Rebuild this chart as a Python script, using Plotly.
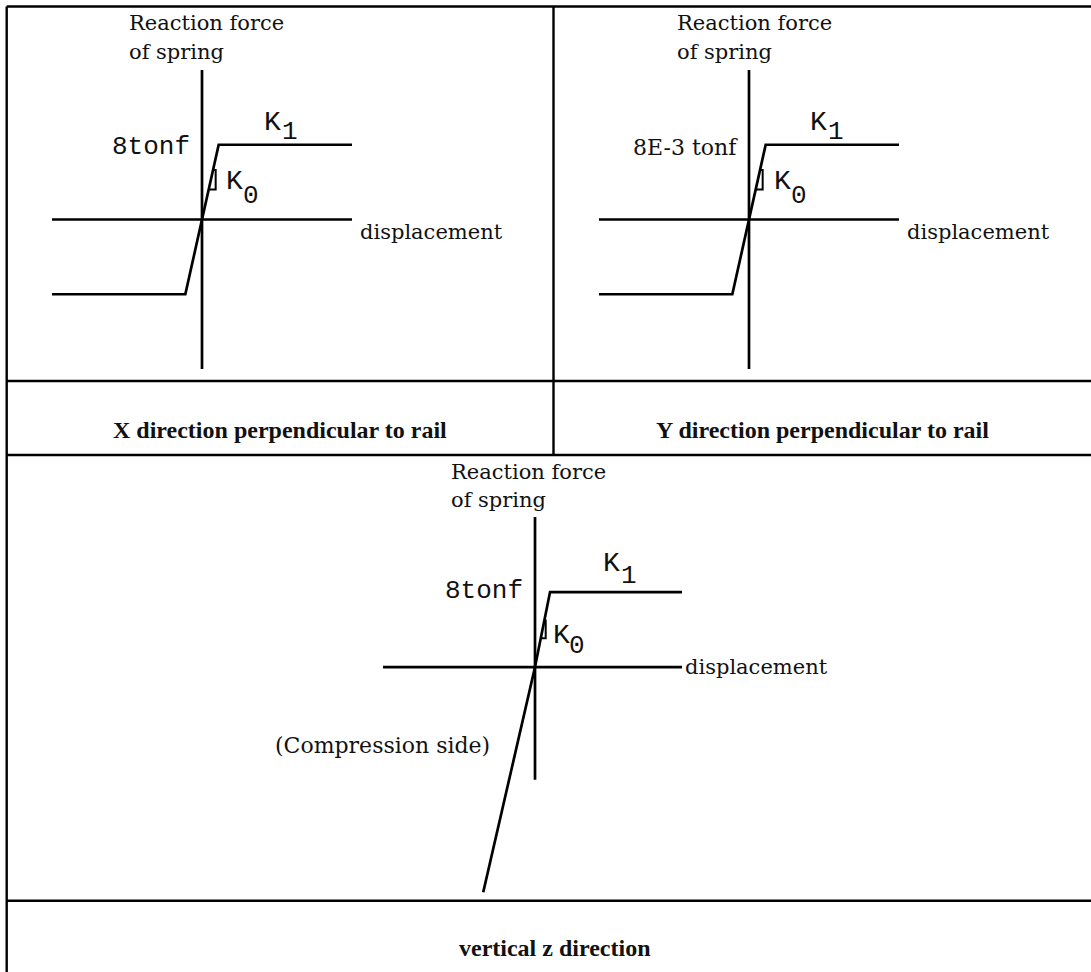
import plotly.graph_objects as go

W, H = 1091, 972

# spring curves: displacement (relative units) vs reaction force (tonf)
disp_x = [-9, -1, 1, 9]
force_x = [-8, -8, 8, 8]
disp_y = [-9, -1, 1, 9]
force_y = [-8, -8, 8, 8]
disp_z = [-3.1, 0, 0.9, 8.8]
force_z = [-24, 0, 8, 8]

# extents of the drawn axes
axis_disp_xy = [-9, 9]
axis_force_xy = [-16, 16]
axis_disp_z = [-9.1, 8.8]
axis_force_z = [-12, 16]

# little K0 slope marker
k0_disp_xy = [0.66, 0.82, 0.82, 0.40]
k0_force_xy = [5.3, 5.3, 3.2, 3.2]
k0_disp_z = [0.56, 0.64, 0.64, 0.35]
k0_force_z = [4.96, 4.96, 3.07, 3.07]

yield_labels = ["8tonf", "8E-3 tonf", "8tonf"]
titles = ["X direction perpendicular to rail",
          "Y direction perpendicular to rail",
          "vertical z direction"]


def fx(p):
    return p / W


def fy(p):
    return 1 - p / H


SERIF = "DejaVu Serif"
MONO = "Liberation Mono"
INK = "#111"

fig = go.Figure()

panels = [
    # suffix, curve, axes, marker, plot area in px, ranges
    dict(s="", d=disp_x, f=force_x, ad=axis_disp_xy, af=axis_force_xy,
         kd=k0_disp_xy, kf=k0_force_xy, bx=(52, 352), by=(70, 369),
         rx=[-9, 9], ry=[-16, 16]),
    dict(s="2", d=disp_y, f=force_y, ad=axis_disp_xy, af=axis_force_xy,
         kd=k0_disp_xy, kf=k0_force_xy, bx=(599, 899), by=(70, 369),
         rx=[-9, 9], ry=[-16, 16]),
    dict(s="3", d=disp_z, f=force_z, ad=axis_disp_z, af=axis_force_z,
         kd=k0_disp_z, kf=k0_force_z, bx=(383, 682), by=(517, 895),
         rx=[-9.1, 8.8], ry=[-24.3, 16]),
]

layout_axes = {}
for p in panels:
    xa, ya = "x" + p["s"], "y" + p["s"]
    line = dict(color="black", width=2.7)
    fig.add_trace(go.Scatter(x=p["ad"], y=[0, 0], mode="lines", line=line,
                             xaxis=xa, yaxis=ya, hoverinfo="skip"))
    fig.add_trace(go.Scatter(x=[0, 0], y=p["af"], mode="lines", line=line,
                             xaxis=xa, yaxis=ya, hoverinfo="skip"))
    fig.add_trace(go.Scatter(x=p["d"], y=p["f"], mode="lines", line=line,
                             xaxis=xa, yaxis=ya))
    fig.add_trace(go.Scatter(x=p["kd"], y=p["kf"], mode="lines",
                             line=dict(color="black", width=2),
                             xaxis=xa, yaxis=ya, hoverinfo="skip"))
    layout_axes["xaxis" + p["s"]] = dict(
        domain=[fx(p["bx"][0]), fx(p["bx"][1])], range=p["rx"],
        visible=False, anchor=ya)
    layout_axes["yaxis" + p["s"]] = dict(
        domain=[fy(p["by"][1]), fy(p["by"][0])], range=p["ry"],
        visible=False, anchor=xa)

ann = []


def note(text, x, y, xanchor="left", family=SERIF, size=21, bold=False):
    if bold:
        text = "<b>" + text + "</b>"
    ann.append(dict(text=text, x=fx(x), y=fy(y), xref="paper", yref="paper",
                    xanchor=xanchor, yanchor="middle", showarrow=False,
                    font=dict(family=family, size=size, color=INK)))


# X panel
note("Reaction force", 127, 23)
note("of spring", 127, 52)
note(yield_labels[0], 192, 147, "right", MONO, 26)
note("K", 262, 122, family=MONO, size=28)
note("1", 280, 132, family=MONO, size=26)
note("K", 224, 181, family=MONO, size=28)
note("0", 241, 196, family=MONO, size=26)
note("displacement", 358, 232)
note(titles[0], 280, 430, "center", "Liberation Serif", 24, True)

# Y panel
note("Reaction force", 675, 23)
note("of spring", 675, 52)
note(yield_labels[1], 740, 148, "right", size=22)
note("K", 808, 122, family=MONO, size=28)
note("1", 826, 132, family=MONO, size=26)
note("K", 772, 181, family=MONO, size=28)
note("0", 789, 196, family=MONO, size=26)
note("displacement", 905, 232)
note(titles[1], 822, 430, "center", "Liberation Serif", 24, True)

# Z panel
note("Reaction force", 449, 472)
note("of spring", 449, 500)
note(yield_labels[2], 525, 591, "right", MONO, 26)
note("K", 601, 563, family=MONO, size=28)
note("1", 619, 576, family=MONO, size=26)
note("K", 551, 635, family=MONO, size=28)
note("0", 567, 646, family=MONO, size=26)
note("displacement", 683, 667)
note("(Compression side)", 273, 745, size=22)
note(titles[2], 554, 948, "center", "Liberation Serif", 24, True)

# table rules
rules = [
    (6.7, 6.5, W + 2, 6.5),
    (6.7, 6.5, 6.7, H + 2),
    (553.5, 6.5, 553.5, 455),
    (6.7, 381, W + 2, 381),
    (6.7, 455, W + 2, 455),
    (6.7, 900.7, W + 2, 900.7),
]
shapes = [dict(type="line", xref="paper", yref="paper",
               x0=fx(a), y0=fy(b), x1=fx(c), y1=fy(d),
               line=dict(color="black", width=2.4)) for a, b, c, d in rules]

fig.update_layout(
    width=W, height=H,
    margin=dict(l=0, r=0, t=0, b=0),
    paper_bgcolor="white", plot_bgcolor="white",
    showlegend=False,
    annotations=ann, shapes=shapes,
    **layout_axes
)

# page margin off so the figure sits at the window corner
fig.write_html("out.html",
               config={"displayModeBar": False},
               post_script="document.body.style.margin='0';"
                           "document.body.style.overflow='hidden';")
